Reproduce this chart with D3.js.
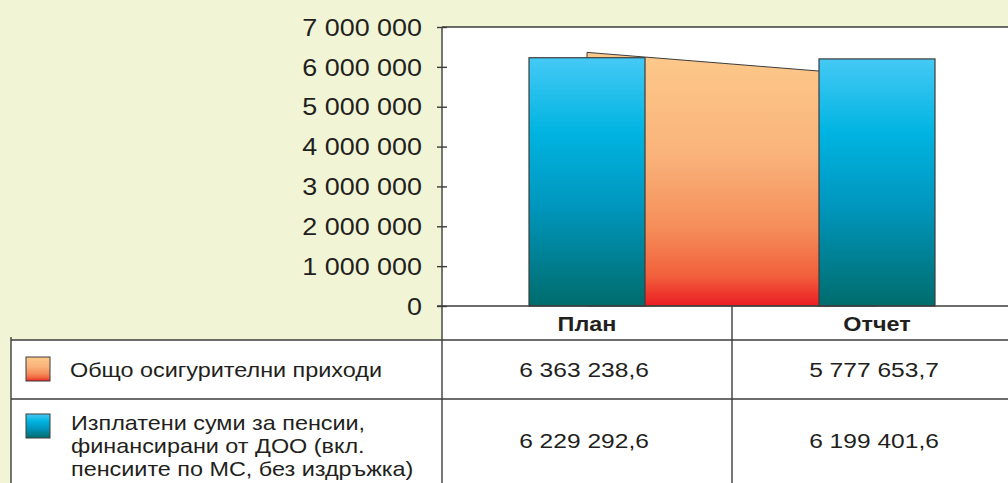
<!DOCTYPE html>
<html>
<head>
<meta charset="utf-8">
<script src="https://cdn.jsdelivr.net/npm/d3@7"></script>
<style>
  body { margin: 0; background: #f1f5d6; }
  svg { display: block; font-family: "Liberation Sans", Arial, sans-serif; }
</style>
</head>
<body>
<div id="chart"></div>
<script>
// data
var categories = ["План", "Отчет"];
var incomeValues = [6363238.6, 5777653.7];   // Общо осигурителни приходи (area)
var pensionValues = [6229292.6, 6199401.6];  // Изплатени суми за пенсии (bars)
var yTicks = [0, 1000000, 2000000, 3000000, 4000000, 5000000, 6000000, 7000000];
var incomeLabel = ["Общо осигурителни приходи"];
var pensionLabel = ["Изплатени суми за пенсии,", "финансирани от ДОО (вкл.", "пенсиите по МС, без издръжка)"];

var width = 1008, height = 483;
var sx = 1.17; // text in the picture is stretched horizontally
var ink = "#231f20", lineCol = "#3d3d3d";

var bg = {x0: 442, top: 27, zero: 306, hdr: 340, row: 399, left: 11};

var locale = d3.formatLocale({decimal: ",", thousands: " ", grouping: [3], currency: ["", ""]});
var fmtTick = locale.format(",d");
var fmtVal = locale.format(",.1f");

var x = d3.scaleBand().domain(categories).range([442, 1022]).padding(0);
var y = d3.scaleLinear().domain([0, 7000000]).range([bg.zero, bg.top]);
var barW = x.bandwidth() * 0.4;
var xc = function(c) { return x(c) + x.bandwidth() / 2; };

var svg = d3.select("#chart").append("svg").attr("width", width).attr("height", height);

var defs = svg.append("defs");
function grad(id, stops) {
  var g = defs.append("linearGradient").attr("id", id)
    .attr("x1", 0).attr("y1", 0).attr("x2", 0).attr("y2", 1);
  stops.forEach(function(s) { g.append("stop").attr("offset", s[0]).attr("stop-color", s[1]); });
}
grad("gOrange", [[0, "#fdc98b"], [0.4, "#f9b37b"], [0.7, "#f58c58"], [0.88, "#f1603c"], [1, "#ec1c24"]]);
grad("gBlue", [[0, "#45c9f5"], [0.3, "#00b4e1"], [0.6, "#0096bd"], [1, "#006c6c"]]);

// background panels
svg.append("rect").attr("width", width).attr("height", height).attr("fill", "#f1f5d6");
svg.append("rect").attr("x", bg.x0).attr("y", bg.top).attr("width", width - bg.x0).attr("height", bg.hdr - bg.top).attr("fill", "#fff");
svg.append("rect").attr("x", bg.left).attr("y", bg.hdr).attr("width", width - bg.left).attr("height", height - bg.hdr).attr("fill", "#fff");

// area series
var area = d3.area()
  .x(function(d, i) { return xc(categories[i]); })
  .y0(y(0))
  .y1(function(d) { return y(d); });
svg.append("path").datum(incomeValues).attr("d", area)
  .attr("fill", "url(#gOrange)").attr("stroke", lineCol).attr("stroke-width", 1);

// bar series
svg.selectAll(".bar").data(pensionValues).enter().append("rect")
  .attr("class", "bar")
  .attr("x", function(d, i) { return xc(categories[i]) - barW / 2; })
  .attr("y", function(d) { return y(d); })
  .attr("width", barW)
  .attr("height", function(d) { return y(0) - y(d); })
  .attr("fill", "url(#gBlue)").attr("stroke", lineCol).attr("stroke-width", 1.2);

// y axis
var yAxis = svg.append("g").attr("transform", "translate(" + bg.x0 + ",0)")
  .call(d3.axisLeft(y).tickValues(yTicks).tickFormat(fmtTick).tickSize(5));
yAxis.select(".domain").remove();
yAxis.selectAll(".tick line").attr("x1", -5).attr("x2", 5).attr("stroke", lineCol).attr("stroke-width", 1.4);
yAxis.selectAll(".tick text")
  .attr("x", 0).attr("dy", "0.36em")
  .attr("transform", "translate(-20,0) scale(" + sx + ",1)")
  .attr("fill", ink).style("font-size", "23px").attr("text-anchor", "end");

// frame and table lines
function hline(x1, x2, yy) {
  svg.append("line").attr("x1", x1).attr("x2", x2).attr("y1", yy).attr("y2", yy)
    .attr("stroke", lineCol).attr("stroke-width", 1.4);
}
function vline(xx, y1, y2) {
  svg.append("line").attr("x1", xx).attr("x2", xx).attr("y1", y1).attr("y2", y2)
    .attr("stroke", lineCol).attr("stroke-width", 1.4);
}
hline(bg.x0, width, bg.top);
hline(bg.x0 - 5, width, bg.zero);
hline(bg.left, width, bg.hdr);
hline(bg.left, width, bg.row);
vline(bg.x0, bg.top, height);
vline(x(categories[1]), bg.zero, height);
vline(bg.left, bg.hdr - 3, height);

function label(tx, ty, str, size, weight, anchor) {
  return svg.append("text")
    .attr("transform", "translate(" + tx + "," + ty + ") scale(" + sx + ",1)")
    .attr("text-anchor", anchor || "middle")
    .attr("fill", ink)
    .style("font-size", size + "px")
    .style("font-weight", weight || "normal")
    .text(str);
}

// header row
categories.forEach(function(c) { label(xc(c), 331, c, 20, "bold"); });

// value rows
incomeValues.forEach(function(v, i) { label(xc(categories[i]) - 3, 377, fmtVal(v), 21); });
pensionValues.forEach(function(v, i) { label(xc(categories[i]) - 3, 448, fmtVal(v), 21); });

// legend cells
svg.append("rect").attr("x", 26).attr("y", 357).attr("width", 24).attr("height", 24)
  .attr("fill", "url(#gOrange)").attr("stroke", lineCol).attr("stroke-width", 1);
svg.append("rect").attr("x", 26).attr("y", 414).attr("width", 24).attr("height", 24)
  .attr("fill", "url(#gBlue)").attr("stroke", lineCol).attr("stroke-width", 1);
incomeLabel.forEach(function(t, i) { label(70, 377, t, 20, "normal", "start"); });
pensionLabel.forEach(function(t, i) { label(71, 430 + i * 23, t, 20, "normal", "start"); });
</script>
</body>
</html>
